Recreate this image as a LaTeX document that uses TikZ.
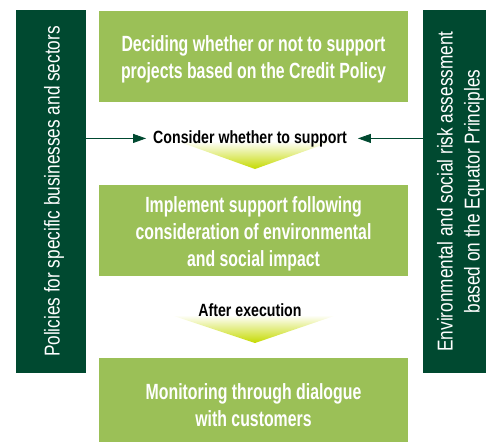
\documentclass[tikz,border=0pt]{standalone}
\usepackage{fontspec}
\setmainfont{Liberation Sans}
\newfontfamily\narrowfont[FakeStretch=0.72]{Liberation Sans}
\newfontfamily\barfont[FakeStretch=0.8]{Liberation Sans}
\usetikzlibrary{arrows.meta,positioning}

\definecolor{stagegreen}{RGB}{155,192,87}
\definecolor{bargreen}{RGB}{0,73,48}
\definecolor{funnelgreen}{RGB}{197,218,0}

\begin{document}
\begin{tikzpicture}[
    x=1pt, y=-1pt,
    stage/.style={
        fill=stagegreen,
        minimum width=309pt,
        minimum height=91pt,
        inner sep=0pt
    },
    stagetext/.style={
        inner sep=0pt,
        text=white,
        align=center,
        font=\narrowfont\bfseries\fontsize{22}{27}\selectfont
    },
    sidebar/.style={
        fill=bargreen,
        minimum height=363pt,
        inner sep=0pt
    },
    bartext/.style={
        rotate=90,
        inner sep=0pt,
        text=white,
        align=center,
        font=\barfont\fontsize{21.5}{27}\selectfont
    },
    steplabel/.style={
        inner xsep=7pt,
        inner ysep=3pt,
        font=\barfont\bfseries\fontsize{17.7}{21}\selectfont
    },
    link/.style={draw=bargreen, line width=0.8pt, -{Triangle[length=13pt,width=9pt]}}
]
\useasboundingbox (0,0) rectangle (486,442);

% Side bars
\node[sidebar, minimum width=70pt] (policies) at (51,191.5) {};
\node[sidebar, minimum width=63pt] (equator) at (454.5,191.5) {};
\node[bartext] (policiestext) at ([xshift=3pt]policies.center)
    {Policies for specific businesses and sectors};
\node[bartext] (equatortext) at ([xshift=6pt]equator.center)
    {Environmental and social risk assessment\\based on the Equator Principles};

% Stages
\node[stage] (decide) at (253.5,56.5) {};
\node[stage] (implement) at (253.5,230.5) {};
\node[stage, minimum height=84pt] (monitor) at (253.5,400) {};
\node[stagetext] (decidetext) at ([yshift=-3pt]decide.center)
    {Deciding whether or not to support\\projects based on the Credit Policy};
\node[stagetext] (implementtext) at ([yshift=-3pt]implement.center)
    {Implement support following\\consideration of environmental\\and social impact};
\node[stagetext] (monitortext) at ([yshift=-5pt]monitor.center)
    {Monitoring through dialogue\\with customers};

% Funnels between stages
\shade[top color=white, bottom color=funnelgreen] (177,141) -- (333,141) -- (255,169) -- cycle;
\shade[top color=white, bottom color=funnelgreen] (171,315) -- (337,315) -- (255,343) -- cycle;

% Step labels
\node[steplabel, anchor=base] (consider) at (250,143) {Consider whether to support};
\node[steplabel, anchor=base] (after) at (250,316) {After execution};

% Arrows from the side bars
\draw[link] (policies.east |- consider.west) -- (consider.west);
\draw[link] (equator.west |- consider.east) -- ([xshift=4pt]consider.east);

\end{tikzpicture}
\end{document}
